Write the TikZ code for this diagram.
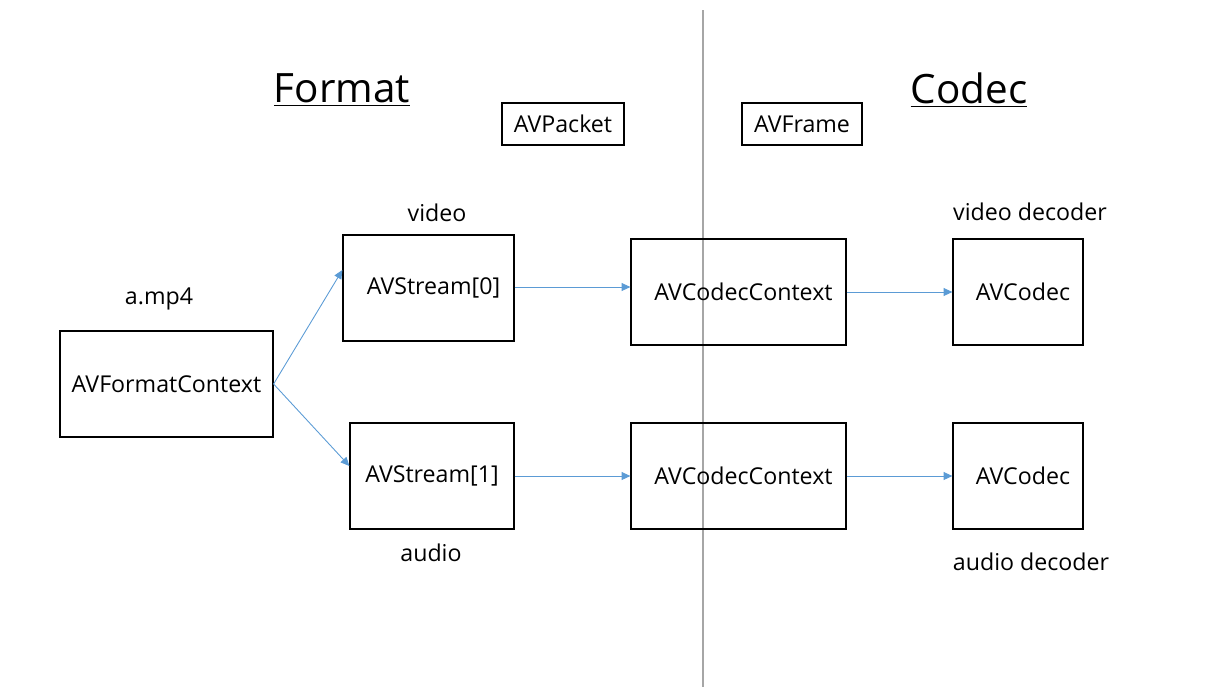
\documentclass[tikz,border=0pt]{standalone}
\usepackage{fontspec}
\setmainfont{Open Sans}
\usetikzlibrary{positioning,calc,arrows.meta}
\definecolor{linkblue}{HTML}{5B9BD5}
\definecolor{sepgray}{HTML}{A6A6A6}
\newcommand{\padl}{\hspace*{0.2cm}}

\begin{document}
\begin{tikzpicture}[x=0.02cm, y=-0.02cm, font=\fontsize{13.2}{15}\selectfont,
    box/.style={draw, line width=0.7pt, inner sep=0pt},
    link/.style={draw=linkblue, line width=0.5pt, -{Triangle[length=5pt, width=4.5pt]}},
    title/.style={font=\fontsize{23}{27}\selectfont}]
    \useasboundingbox (0,0) rectangle (1212,687);
    % separator between format and codec
    \coordinate (septop) at (703,10);
    \coordinate (sepbot) at (703,687);
    \draw[sepgray, line width=0.6pt] (septop) -- (sepbot);%
    % titles
    \node[title] (format) at (342,90) {\underline{Format}};%
    \node[title] (codec) at (969,90) {\underline{Codec}};%
    \node[box, minimum width=2.44cm, minimum height=0.84cm] (packet) at (563,124) {AVPacket};%
    \node[box, minimum width=2.4cm, minimum height=0.84cm] (frame) at (802,124) {AVFrame};%
    % format side
    \node[box, minimum width=4.26cm, minimum height=2.12cm] (fmt) at (166.5,384) {AVFormatContext};%
    \node (file) at (159,299) {a.mp4};%
    \node[box, minimum width=3.42cm, minimum height=2.12cm] (stream0) at (428.5,288) {\padl AVStream[0]};%
    \node[box, minimum width=3.28cm, minimum height=2.12cm] (stream1) at (432,476) {AVStream[1]};%
    \node (video) at (437,213) {video};%
    \node (audio) at (431,553) {audio};%
    % codec side
    \node[box, minimum width=4.3cm, minimum height=2.12cm] (ctx0) at (738.5,292) {\padl AVCodecContext};%
    \node[box, minimum width=4.3cm, minimum height=2.12cm] (ctx1) at (738.5,476) {\padl AVCodecContext};%
    \node[box, minimum width=2.6cm, minimum height=2.12cm] (dec0) at (1018,292) {\padl AVCodec};%
    \node[box, minimum width=2.6cm, minimum height=2.12cm] (dec1) at (1018,476) {\padl AVCodec};%
    \node (vdec) at (1030,212) {video decoder};%
    \node (adec) at (1031,562) {audio decoder};%
    % connectors
    \path[link] (fmt.east) -- ([yshift=0.36cm]stream0.west);
    \path[link] (fmt.east) -- ([yshift=0.2cm]stream1.west);
    \path[link] ([yshift=0.02cm]stream0.east) -- ([yshift=0.02cm]stream0.east -| ctx0.west);
    \path[link] (stream1) -- (ctx1);
    \path[link] (ctx0) -- (dec0);
    \path[link] (ctx1) -- (dec1);
  \end{tikzpicture}
\end{document}
